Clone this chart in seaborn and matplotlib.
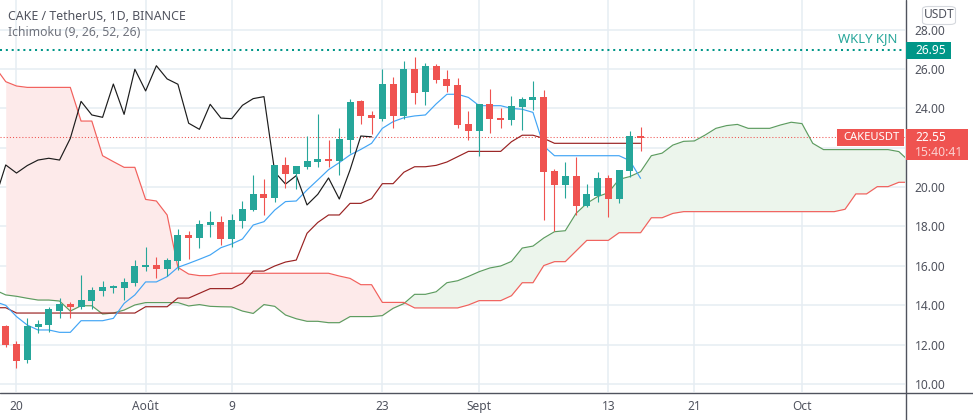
import numpy as np
import pandas as pd
import seaborn as sns
import matplotlib.pyplot as plt
from matplotlib.lines import Line2D
from matplotlib.patches import Rectangle, FancyBboxPatch

# candles, one per day, first one is the day before "20"
opens = [12.94, 12.03, 11.23, 12.89, 13.00, 13.70, 14.06, 13.90, 14.20, 14.72,
         14.87, 14.87, 15.13, 15.94, 16.04, 15.84, 16.24, 17.56, 17.41, 18.07,
         18.22, 17.36, 18.27, 18.83, 19.64, 19.44, 21.12, 20.66, 21.02, 21.27,
         21.42, 21.32, 22.39, 24.37, 23.66, 23.45, 25.23, 23.61, 25.99, 24.83,
         26.15, 25.49, 25.18, 23.20, 22.85, 24.22, 23.50, 23.40, 24.07, 24.42,
         24.57, 20.82, 20.10, 20.56, 19.04, 19.55, 20.46, 19.39, 20.82, 22.60]
closes = [11.99, 11.18, 12.94, 13.04, 13.80, 14.06, 13.90, 14.26, 14.77, 14.92,
          14.97, 15.18, 15.99, 16.04, 15.84, 16.29, 17.56, 17.41, 18.12, 18.22,
          17.36, 18.33, 18.87, 19.64, 19.44, 21.12, 20.66, 21.07, 21.32, 21.42,
          21.32, 22.44, 24.32, 23.61, 23.50, 25.23, 23.61, 25.99, 24.78, 26.15,
          25.44, 25.13, 23.15, 22.85, 24.22, 23.46, 23.40, 24.12, 24.47, 24.57,
          20.76, 20.10, 20.56, 19.04, 19.65, 20.46, 19.39, 20.87, 22.59, 22.49]
highs = [13.00, 12.18, 13.35, 13.25, 13.91, 14.36, 14.16, 15.53, 14.92, 15.23,
         15.02, 15.38, 16.29, 16.95, 16.45, 16.39, 17.87, 17.77, 18.33, 18.78,
         18.53, 18.63, 19.29, 20.61, 20.41, 21.12, 21.52, 21.07, 22.59, 23.71,
         22.39, 22.99, 24.47, 24.42, 23.86, 25.99, 25.59, 26.40, 26.60, 26.30,
         26.25, 25.94, 25.54, 23.86, 24.22, 24.98, 24.00, 24.62, 24.57, 25.38,
         24.93, 20.90, 21.27, 21.53, 20.15, 20.76, 20.60, 20.87, 22.85, 23.05]
lows = [11.90, 10.83, 11.08, 12.60, 12.65, 13.35, 13.35, 13.80, 13.80, 14.47,
        14.62, 14.26, 14.97, 15.73, 15.38, 15.48, 15.79, 16.34, 16.90, 17.46,
        17.06, 16.97, 17.92, 18.78, 18.58, 19.24, 19.95, 19.90, 20.92, 21.02,
        21.00, 20.61, 21.73, 23.20, 22.69, 23.35, 22.98, 23.46, 24.22, 24.17,
        25.28, 24.83, 22.98, 22.39, 21.58, 22.74, 23.00, 23.15, 22.90, 23.91,
        18.33, 17.75, 19.44, 18.58, 18.99, 19.24, 18.48, 19.19, 20.51, 21.83]

# ichimoku lines, all start two days before "20"
tenkan = [14.18, 13.99, 13.42, 12.99, 12.74, 12.74, 12.62, 12.62, 13.21, 13.21,
          13.21, 13.33, 14.09, 14.52, 15.18, 15.18, 15.45, 15.92, 16.12, 16.33,
          16.55, 16.92, 17.11, 17.36, 18.07, 18.24, 18.83, 19.26, 19.29, 19.85,
          20.36, 20.88, 21.24, 21.63, 21.91, 22.22, 22.98, 23.32, 23.52, 23.61,
          23.66, 24.22, 24.71, 24.71, 24.55, 24.13, 24.13, 24.13, 23.99, 23.95,
          23.79, 22.08, 21.59, 21.59, 21.59, 21.59, 21.59, 21.59, 21.59, 21.34, 20.44]
kijun = [13.87, 13.87, 13.60, 13.60, 13.60, 13.60, 13.60, 13.60, 13.60, 13.60,
         13.60, 13.60, 13.60, 13.60, 13.92, 13.92, 13.92, 14.36, 14.36, 14.60,
         14.84, 14.84, 14.84, 15.11, 15.73, 15.73, 15.99, 16.19, 16.29, 17.65,
         18.20, 18.58, 18.58, 19.17, 19.17, 19.41, 20.17, 20.17, 20.75, 21.03,
         21.03, 21.10, 21.27, 21.54, 21.81, 21.81, 21.81, 21.81, 22.30, 22.63,
         22.63, 22.47, 22.22, 22.22, 22.22, 22.22, 22.22, 22.22, 22.22, 22.22, 22.22]
chikou = [19.40, 21.12, 20.71, 21.09, 21.37, 21.46, 21.37, 22.47, 24.35, 23.66,
          23.54, 25.23, 23.69, 25.98, 24.88, 26.16, 25.49, 25.22, 23.24, 22.93,
          24.20, 23.50, 23.47, 24.15, 24.49, 24.59, 20.76, 20.15, 20.58, 19.09,
          19.63, 20.46, 19.39, 20.87, 22.59, 22.55]
span_a = [14.77, 14.52, 14.45, 14.35, 14.26, 14.26, 14.21, 13.70, 13.97, 13.97,
          13.55, 13.60, 13.75, 14.01, 14.13, 14.13, 14.13, 14.13, 13.96, 14.03,
          13.94, 13.92, 13.91, 13.70, 13.58, 14.03, 13.94, 13.50, 13.31, 13.18,
          13.18, 13.11, 13.11, 13.42, 13.42, 13.42, 13.47, 13.84, 14.08, 14.55,
          14.55, 14.68, 15.14, 15.24, 15.46, 15.70, 15.89, 15.99, 16.22, 16.90,
          17.00, 17.41, 17.73, 17.78, 18.66, 19.17, 19.51, 19.71, 20.39, 20.53,
          20.78, 21.59, 21.72, 22.13, 22.32, 22.34, 22.64, 22.98, 23.12, 23.18,
          22.98, 22.98, 22.98, 23.15, 23.29, 23.22, 22.22, 21.90, 21.90, 21.90,
          21.90, 21.90, 21.90, 21.90, 21.80, 21.29]
span_b = [26.10, 25.35, 25.13, 25.06, 25.06, 25.06, 25.06, 25.06, 23.35, 23.35,
          21.59, 21.29, 21.00, 21.00, 19.37, 19.29, 18.58, 15.92, 15.58, 15.50,
          15.50, 15.62, 15.62, 15.62, 15.62, 15.62, 15.62, 15.62, 15.62, 15.62,
          15.62, 15.62, 15.48, 15.36, 15.04, 15.04, 14.14, 14.14, 14.14, 13.86,
          13.86, 13.86, 13.86, 13.86, 14.01, 14.23, 14.23, 14.23, 14.48, 15.14,
          15.14, 16.01, 16.21, 16.21, 16.75, 17.29, 17.29, 17.29, 17.68, 17.68,
          17.68, 18.44, 18.44, 18.66, 18.75, 18.75, 18.75, 18.75, 18.75, 18.75,
          18.75, 18.75, 18.75, 18.75, 18.75, 18.75, 18.75, 18.75, 18.75, 18.87,
          19.65, 19.65, 20.02, 20.02, 20.24, 20.24]

price_ticks = [10, 12, 14, 16, 18, 20, 22, 24, 26, 28]
time_ticks = [0, 12, 20, 34, 43, 55, 63, 73]
time_labels = ["20", "Août", "9", "23", "Sept", "13", "21", "Oct"]
last_price = 22.55
wkly_kjn = 26.95

GREEN = "#26a69a"
RED = "#ef5350"
TEXT = "#50535e"
GRID = "#e6edf3"

W, H = 973, 420


def px_box(fig, x0, y0, x1, y1, color):
    # rectangle given in picture pixels, y going down
    fig.add_artist(Rectangle((x0 / W, 1 - y1 / H), (x1 - x0) / W, (y1 - y0) / H,
                             transform=fig.transFigure, facecolor=color,
                             edgecolor="none", zorder=5))


def px_text(fig, x, y, s, color=TEXT, size=8.6, ha="left", **kw):
    fig.text(x / W, 1 - y / H, s, color=color, fontsize=size, ha=ha, va="center",
             zorder=6, **kw)


def px_line(fig, x0, y0, x1, y1):
    fig.add_artist(Line2D([x0 / W, x1 / W], [1 - y0 / H, 1 - y1 / H], color=TEXT,
                          linewidth=1, transform=fig.transFigure, zorder=4))


sns.set_theme(style="white")
plt.rcParams["font.family"] = ["Noto Sans", "DejaVu Sans"]

fig = plt.figure(figsize=(W / 100, H / 100), dpi=100)
ax = fig.add_axes([0, (H - 392) / H, 905 / W, 392 / H])

days = np.arange(-1, len(opens) - 1)
ichi_days = np.arange(-2, len(tenkan) - 2)
span_days = np.arange(-2, len(span_a) - 2)
chikou_days = np.arange(-2, len(chikou) - 2)

candles = pd.DataFrame({"day": days, "open": opens, "close": closes, "high": highs, "low": lows})
candles["color"] = np.where(candles["close"] >= candles["open"], GREEN, RED)

# cloud starts one day after the lines do
cloud = pd.DataFrame({"day": span_days, "a": span_a, "b": span_b})
cloud = cloud[cloud["day"] >= -1]
ax.fill_between(cloud["day"], cloud["a"], cloud["b"], where=cloud["b"] >= cloud["a"],
                interpolate=True, color="#fdeaea", linewidth=0, zorder=1.2)
ax.fill_between(cloud["day"], cloud["a"], cloud["b"], where=cloud["a"] >= cloud["b"],
                interpolate=True, color="#ecf5ec", linewidth=0, zorder=1.2)

sns.lineplot(x=span_days, y=span_a, ax=ax, color="#5d9c60", linewidth=0.85, zorder=2)
sns.lineplot(x=span_days, y=span_b, ax=ax, color="#f2605c", linewidth=0.85, zorder=2)
sns.lineplot(x=ichi_days, y=kijun, ax=ax, color="#992222", linewidth=0.85, zorder=2)
sns.lineplot(x=ichi_days, y=tenkan, ax=ax, color="#42a5f5", linewidth=0.85, zorder=2)
sns.lineplot(x=chikou_days, y=chikou, ax=ax, color="#1c1c1c", linewidth=0.85, zorder=2)

ax.axhline(last_price, color=RED, linewidth=0.75, linestyle=(0, (1, 2)), zorder=1.5)
ax.axhline(wkly_kjn, color="#009688", linewidth=1.45, linestyle=(0, (1, 1.9)), zorder=1.5)

ax.vlines(candles["day"], candles["low"], candles["high"], colors=candles["color"],
          linewidth=0.8, zorder=3)
ax.bar(candles["day"], (candles["close"] - candles["open"]).abs(),
       bottom=candles[["open", "close"]].min(axis=1), width=0.65,
       color=candles["color"], linewidth=0, zorder=4)

ax.set_xlim((0 - 16.5) / 10.76, (905 - 16.5) / 10.76)
ax.set_ylim(28 - (392 - 29.5) / 19.69, 28 + 29.5 / 19.69)

ax.set_xticks(time_ticks)
ax.set_xticklabels(time_labels)
ax.set_yticks(price_ticks)
# 22.00 sits behind the last price badge in the reference
ax.set_yticklabels(["" if p == 22 else "{:.2f}".format(p) for p in price_ticks])
ax.yaxis.tick_right()
ax.grid(True, color=GRID, linewidth=1.1, zorder=0)
ax.set_axisbelow(True)
ax.tick_params(axis="x", length=0, pad=6, labelsize=8.6, labelcolor=TEXT)
ax.tick_params(axis="y", length=0, pad=7, labelsize=8.6, labelcolor=TEXT)
for side in ["top", "left", "right", "bottom"]:
    ax.spines[side].set_visible(False)

px_line(fig, 0, 392.5, W, 392.5)
px_line(fig, 905.5, 0, 905.5, H)

px_text(fig, 8, 17, "CAKE / TetherUS, 1D, BINANCE", size=8.9, fontweight="semibold")
px_text(fig, 8, 33, "Ichimoku (9, 26, 52, 26)", size=8.8, color="#6f727c")
px_text(fig, 897, 39, "WKLY KJN", color="#26a69a", size=9.4, ha="right")

# price scale badges
px_box(fig, 906, 42, 951, 59, "#009688")
px_text(fig, 915, 50.5, "26.95", color="white")
px_box(fig, 837, 129, 904, 146, RED)
px_text(fig, 843, 137.5, "CAKEUSDT", color="white", size=8.1)
px_box(fig, 906, 129, 968, 160, RED)
px_text(fig, 915, 137.5, "22.55", color="white")
px_text(fig, 915, 152, "15:40:41", color="#fbd0cf", size=8.8)
fig.add_artist(FancyBboxPatch((922.5 / W, 1 - 24.5 / H), 33 / W, 18 / H,
                              boxstyle="round,pad=0,rounding_size=0.006",
                              transform=fig.transFigure, facecolor="white",
                              edgecolor="#d5d8dd", linewidth=0.8))
px_text(fig, 939, 15, "USDT", ha="center")

fig.savefig("out.png", dpi=100)
